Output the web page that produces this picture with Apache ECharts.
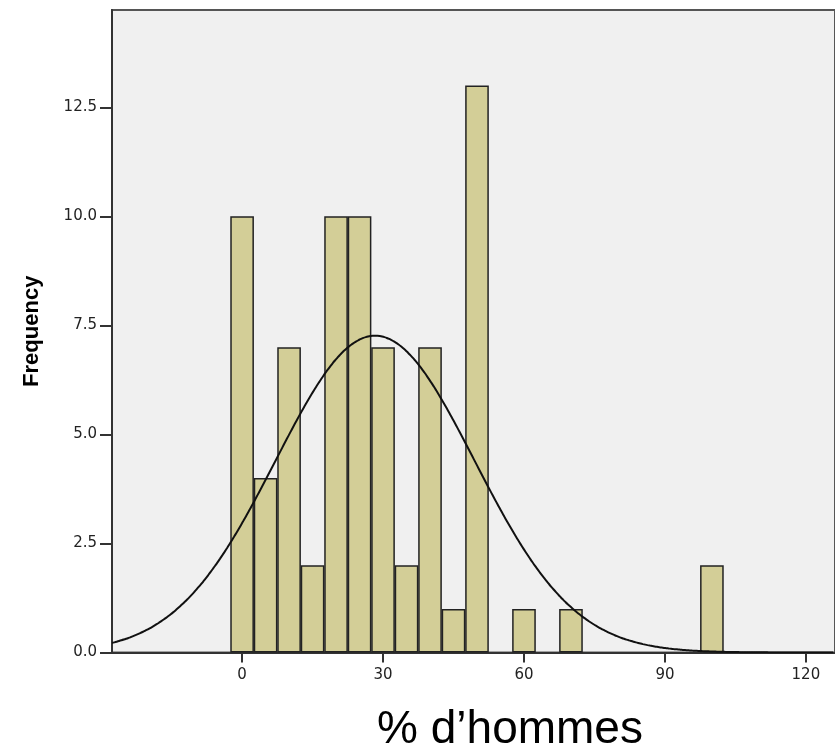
<!DOCTYPE html>
<html>
<head>
<meta charset="utf-8">
<script src="https://cdn.jsdelivr.net/npm/echarts@6/dist/echarts.min.js"></script>
<style>
  html, body { margin: 0; padding: 0; background: #fff; }
  #main { width: 835px; height: 751px; }
</style>
</head>
<body>
<div id="main"></div>
<script>
// histogram bins (centres, width 5) and their counts
var binCenters = [0, 5, 10, 15, 20, 25, 30, 35, 40, 45, 50, 55, 60, 65, 70, 75, 80, 85, 90, 95, 100];
var counts     = [10, 4, 7, 2, 10, 10, 7, 2, 7, 1, 13, 0, 1, 0, 1, 0, 0, 0, 0, 0, 2];
var binWidth = 5;
var xTicks = [0, 30, 60, 90, 120];
// normal curve fitted by SPSS
var curveMean = 28.3;
var curveSd = 21.15;
var curveN = 77;

var xMin = -27.69, xMax = 126.2;

var barData = [];
binCenters.forEach(function (c, i) {
    if (counts[i] > 0) barData.push([c, counts[i]]);
});

var curveData = [];
for (var x = xMin; x <= xMax; x += 0.5) {
    var z = (x - curveMean) / curveSd;
    curveData.push([x, curveN * binWidth / (curveSd * Math.sqrt(2 * Math.PI)) * Math.exp(-z * z / 2)]);
}

var myChart = echarts.init(document.getElementById('main'));
myChart.setOption({
    animation: false,
    grid: {
        left: 112, top: 10, right: -5, bottom: 98.5,
        show: true,
        backgroundColor: '#f0f0f0',
        borderColor: '#555',
        borderWidth: 2
    },
    xAxis: {
        type: 'value',
        min: xMin,
        max: xMax,
        splitLine: { show: false },
        axisLine: { onZero: false, lineStyle: { color: '#333', width: 2 } },
        axisTick: { customValues: xTicks, length: 10, lineStyle: { color: '#333', width: 2 } },
        axisLabel: {
            customValues: xTicks,
            margin: 15,
            fontFamily: 'DejaVu Sans',
            fontSize: 15,
            color: '#222'
        }
    },
    yAxis: {
        type: 'value',
        min: 0,
        max: 14.73,
        interval: 2.5,
        name: 'Frequency',
        nameLocation: 'middle',
        nameRotate: 90,
        nameGap: 69,
        nameTextStyle: { fontFamily: 'Liberation Sans', fontWeight: 'bold', fontSize: 22, color: '#000' },
        splitLine: { show: false },
        axisLine: { show: true, onZero: false, lineStyle: { color: '#333', width: 2 } },
        axisTick: { show: true, length: 12, lineStyle: { color: '#333', width: 2 } },
        axisLabel: {
            margin: 15,
            fontFamily: 'DejaVu Sans',
            fontSize: 15,
            color: '#222',
            showMaxLabel: false,
            formatter: function (v) { return v.toFixed(1); }
        }
    },
    graphic: [{
        type: 'text',
        style: {
            x: 510, y: 730,
            text: '% d\u2019hommes',
            fontFamily: 'Liberation Sans',
            fontSize: 46,
            fill: '#000',
            textAlign: 'center',
            textVerticalAlign: 'middle'
        }
    }],
    series: [{
        type: 'bar',
        data: barData,
        barWidth: 23.66,
        itemStyle: { color: '#d3ce97', borderColor: '#222', borderWidth: 1.5 },
        z: 2
    }, {
        type: 'line',
        data: curveData,
        showSymbol: false,
        smooth: true,
        lineStyle: { color: '#111', width: 2 },
        z: 3
    }]
});
</script>
</body>
</html>
